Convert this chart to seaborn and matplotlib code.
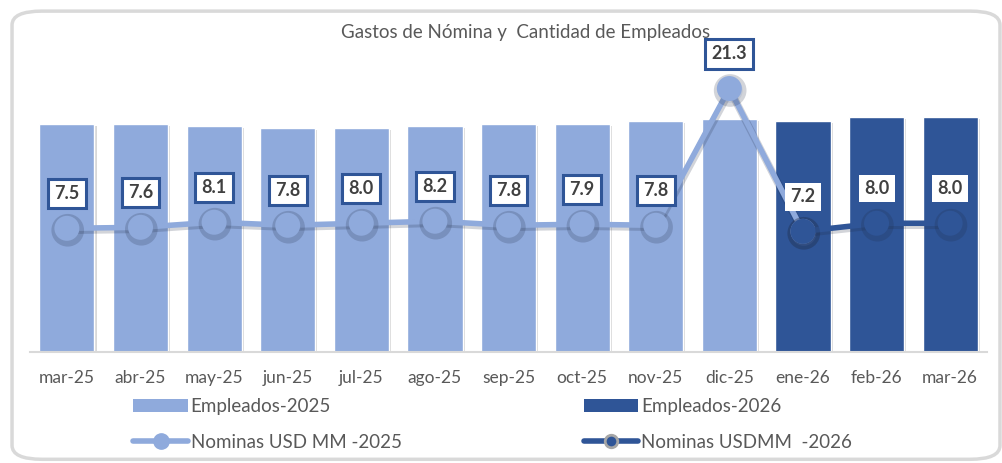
import matplotlib
matplotlib.use("Agg")
import matplotlib.pyplot as plt
import matplotlib.patheffects as pe
from matplotlib.patches import FancyBboxPatch, Patch
from matplotlib.lines import Line2D
import seaborn as sns
import pandas as pd
import numpy as np

meses = ["mar-25", "abr-25", "may-25", "jun-25", "jul-25", "ago-25", "sep-25",
         "oct-25", "nov-25", "dic-25", "ene-26", "feb-26", "mar-26"]
grupo = ["Empleados-2025"] * 10 + ["Empleados-2026"] * 3
empleados = [2280, 2280, 2260, 2240, 2240, 2260, 2280, 2280, 2310, 2330, 2310, 2350, 2350]
nomina_2025 = [7.5, 7.6, 8.1, 7.8, 8.0, 8.2, 7.8, 7.9, 7.8, 21.3, 7.2]
nomina_2026 = [7.2, 8.0, 8.0]

claro = "#8faadc"
oscuro = "#2f5597"
gris_txt = "#595959"

sns.set_style("white")
plt.rcParams["font.family"] = ["Lato", "DejaVu Sans"]

fig = plt.figure(figsize=(10.03, 4.63), dpi=100)
borde = FancyBboxPatch((0.012, 0.008), 0.985, 0.968, boxstyle="round,pad=0,rounding_size=0.03",
                       transform=fig.transFigure, fc="white", ec="#d9d9d9", lw=2.5, zorder=-10)
fig.patches.append(borde)

ax = fig.add_axes([0.030, 0.240, 0.954, 0.630])
ax.patch.set_alpha(0)
df = pd.DataFrame({"mes": meses, "empleados": empleados, "grupo": grupo})
sns.barplot(data=df, x="mes", y="empleados", hue="grupo", dodge=False,
            palette={"Empleados-2025": claro, "Empleados-2026": oscuro},
            width=0.75, ax=ax, legend=False, saturation=1)
sombra_barra = [pe.SimplePatchShadow(offset=(1.5, -1.5), shadow_rgbFace="#7f7f7f", alpha=0.3), pe.Normal()]
for p in ax.patches:
    p.set_path_effects(sombra_barra)
ax.set_ylim(0, 2920)
ax.set_xlim(-0.5, len(meses) - 0.5)
ax.set_xlabel("")
ax.set_ylabel("")
ax.set_yticks([])
for s in ["top", "left", "right"]:
    ax.spines[s].set_visible(False)
ax.spines["bottom"].set_color("#d9d9d9")
ax.spines["bottom"].set_linewidth(1.5)
ax.tick_params(axis="x", which="major", length=0, pad=13, labelsize=12.5, labelcolor=gris_txt)
ax.set_xticks(np.arange(-0.5, len(meses), 1), minor=True)
ax.tick_params(axis="x", which="minor", length=5, width=1.5, color="#d9d9d9", direction="out")

ax2 = ax.twinx()
ax2.set_zorder(ax.get_zorder() + 1)
ax2.patch.set_visible(False)
ax2.set_ylim(-4.7, 24.1)
ax2.set_yticks([])
for s in ax2.spines.values():
    s.set_visible(False)

sombra_linea = [pe.Stroke(linewidth=5.5, foreground="#1f2a44", alpha=0.2, offset=(0.6, -1.4)),
                pe.Normal()]
x25 = np.arange(len(nomina_2025))
x26 = np.arange(len(meses) - len(nomina_2026), len(meses))
sns.lineplot(x=x25, y=nomina_2025, color=claro, lw=4, marker="o", markersize=18,
             markeredgewidth=0, ax=ax2, zorder=3)
sns.lineplot(x=x26, y=nomina_2026, color=oscuro, lw=4, marker="o", markersize=18,
             markeredgewidth=0, ax=ax2, zorder=5)
for ln in ax2.lines:
    ln.set_path_effects(sombra_linea)

for xi, v in zip(x25[:-1], nomina_2025[:-1]):
    ax2.annotate(f"{v:.1f}", (xi, v), xytext=(0, 25), textcoords="offset points",
                 ha="center", va="center", fontsize=13, fontweight="bold", color="#404040",
                 bbox=dict(boxstyle="square,pad=0.35", fc="white", ec=oscuro, lw=2.2), zorder=8)
for xi, v in zip(x26, nomina_2026):
    ax2.annotate(f"{v:.1f}", (xi, v), xytext=(0, 25), textcoords="offset points",
                 ha="center", va="center", fontsize=13, fontweight="bold", color="#404040",
                 bbox=dict(boxstyle="square,pad=0.3", fc="white", ec="none"), zorder=8)

fig.text(0.524, 0.93, "Gastos de Nómina y  Cantidad de Empleados", ha="center", va="center",
         fontsize=13.5, color=gris_txt)

h1 = [Patch(fc=claro, ec="none"),
      Line2D([], [], color=claro, lw=4, marker="o", ms=11, mfc=claro, mec=claro)]
h2 = [Patch(fc=oscuro, ec="none"),
      Line2D([], [], color=oscuro, lw=4, marker="o", ms=9, mfc=oscuro, mec="#a6a6a6", mew=2)]
kw = dict(frameon=False, fontsize=13.5, handlelength=2.9, handletextpad=0.15, labelspacing=1.0,
          labelcolor=gris_txt, loc="upper left", borderaxespad=0, borderpad=0)
fig.legend(h1, ["Empleados-2025", "Nominas USD MM -2025"], bbox_to_anchor=(0.133, 0.14), **kw)
fig.legend(h2, ["Empleados-2026", "Nominas USDMM  -2026"], bbox_to_anchor=(0.582, 0.14), **kw)

fig.savefig("out.png", dpi=100)
